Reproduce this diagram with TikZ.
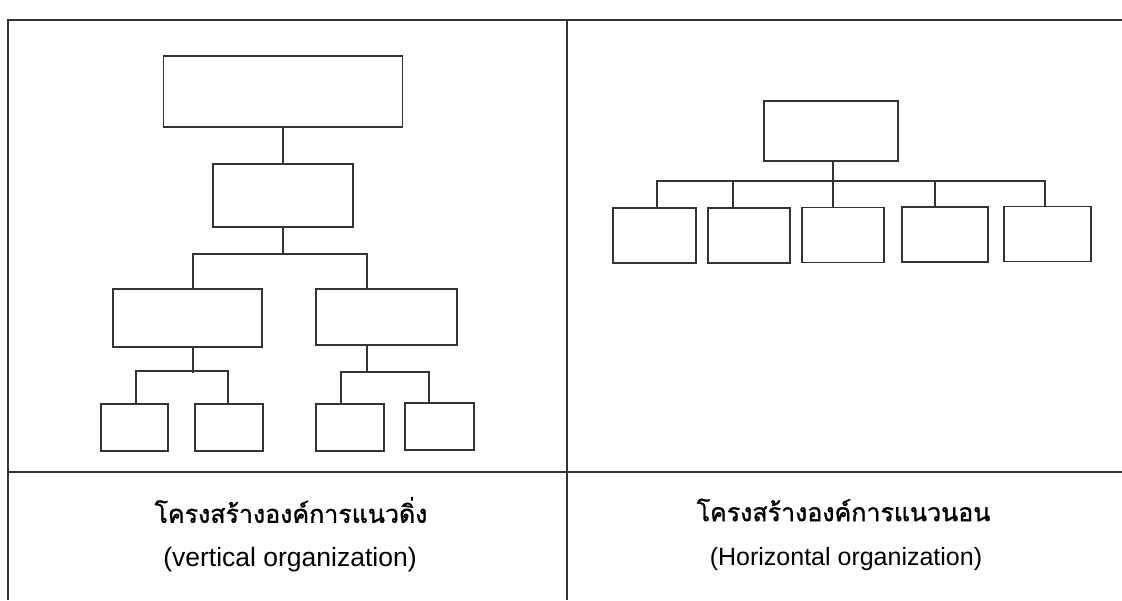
\documentclass[tikz,border=0pt]{standalone}
\usepackage{fontspec}
\setmainfont{Liberation Sans}
\newfontfamily\thaifont[Script=Thai, FakeBold=1.2]{Loma}

\tikzset{
    orgbox/.style={draw=black!80, line width=1.6pt, inner sep=0pt, minimum width=#1},
    orgline/.style={draw=black!80, line width=1.6pt},
    frameline/.style={draw=black!80, line width=1.8pt},
}

\begin{document}
\begin{tikzpicture}[x=1pt, y=-1pt]                 % pixel coordinates, y points down
    \useasboundingbox (0,0) rectangle (1122,600);
    % frame of the table
    \draw[frameline] (8,600) -- (8,20) -- (1122,20);
    \draw[frameline] (567,20) -- (567,600);
    \draw[frameline] (8,472) -- (1122,472);

    % vertical organization
    \node[orgbox=239pt, minimum height=71pt] (vtop) at (283,91.5) {};
    \node[orgbox=140pt, minimum height=63pt] (vmid) at (283,195.5) {};
    \node[orgbox=149pt, minimum height=58pt] (vl) at (187.5,318) {};
    \node[orgbox=141pt, minimum height=56pt] (vr) at (386.5,317) {};
    \node[orgbox=67pt, minimum height=47pt] (vla) at (134.5,427.5) {};
    \node[orgbox=68pt, minimum height=47pt] (vlb) at (229,427.5) {};
    \node[orgbox=68pt, minimum height=47pt] (vra) at (350,427.5) {};
    \node[orgbox=69pt, minimum height=47pt] (vrb) at (439.5,426.5) {};
    \draw[orgline] (vtop) -- (vmid);
    \draw[orgline] (vmid.south) -- ++(0,27.5);
    \draw[orgline] ([xshift=5.5pt]vl.north) -- ++(0,-34) -| ([xshift=-19.5pt]vr.north);
    \draw[orgline] ([xshift=5.5pt]vl.south) -- ++(0,25);
    \draw[orgline] ([xshift=1.5pt]vla.north) -- ++(0,-32) -| ([xshift=-1pt]vlb.north);
    \draw[orgline] ([xshift=-19.5pt]vr.south) -- ++(0,27);
    \draw[orgline] ([xshift=-9pt]vra.north) -- ++(0,-31) -| ([xshift=-10.5pt]vrb.north);

    % horizontal organization
    \node[orgbox=134pt, minimum height=60pt] (hroot) at (831,131) {};
    \node[orgbox=83pt, minimum height=55pt] (hu1) at (654.5,235.5) {};
    \node[orgbox=82pt, minimum height=55pt] (hu2) at (749,235.5) {};
    \node[orgbox=82pt, minimum height=55pt] (hu3) at (843,235) {};
    \node[orgbox=86pt, minimum height=55pt] (hu4) at (945,234.5) {};
    \node[orgbox=87pt, minimum height=55pt] (hu5) at (1047.5,234) {};
    \draw[orgline] ([xshift=2pt]hroot.south) -- ++(0,21);
    \draw[orgline] ([xshift=2.5pt]hu1.north) -- ++(0,-26) -| ([xshift=-2.5pt]hu5.north);
    \foreach \u/\s in {hu2/-16, hu3/-10, hu4/-10}
        \draw[orgline] ([xshift=\s pt]\u.north) -- ++(0,-26);

    % captions
    \node[font=\thaifont\fontsize{25}{30}\selectfont] (vcap) at (291,510) {โครงสร้างองค์การแนวดิ่ง};
    \node[font=\fontsize{26.5}{30}\selectfont] (vsub) at (290,560) {(vertical organization)};
    \node[font=\thaifont\fontsize{25}{30}\selectfont] (hcap) at (843.5,510) {โครงสร้างองค์การแนวนอน};
    \node[font=\fontsize{25}{30}\selectfont] (hsub) at (846,559) {(Horizontal organization)};
\end{tikzpicture}
\end{document}
